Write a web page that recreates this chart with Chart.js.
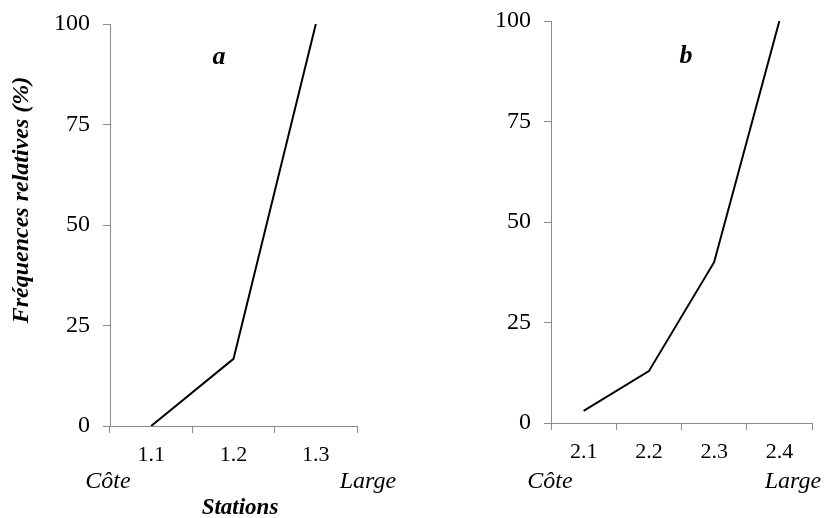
<!DOCTYPE html>
<html>
<head>
<meta charset="utf-8">
<script src="https://cdn.jsdelivr.net/npm/chart.js@4.4.1/dist/chart.umd.min.js"></script>
<style>
    html, body { margin: 0; padding: 0; background: #fff; }
    .panel { position: absolute; top: 0; width: 413px; height: 518px; }
    #panelA { left: 0; }
    #panelB { left: 413px; }
</style>
</head>
<body>
<div class="panel" id="panelA"><canvas id="chartA"></canvas></div>
<div class="panel" id="panelB"><canvas id="chartB"></canvas></div>
<script>
// Data
const stationsA = ['1.1', '1.2', '1.3'];
const freqA = [0, 16.7, 100];
const stationsB = ['2.1', '2.2', '2.3', '2.4'];
const freqB = [3, 12.9, 40, 100];
const yTicks = [0, 25, 50, 75, 100];

const SERIF = '"Liberation Serif", "Times New Roman", serif';
const AXIS_GREY = '#8c8c8c';

// Draw panel letter, Côte / Large, axis titles
const labelsPlugin = {
    id: 'panelLabels',
    afterDraw(chart, args, opts) {
        const ctx = chart.ctx;
        ctx.save();
        ctx.fillStyle = '#000';
        ctx.textAlign = 'center';
        ctx.textBaseline = 'middle';

        ctx.font = 'italic bold 26px ' + SERIF;
        ctx.fillText(opts.letter, opts.letterX, opts.letterY);

        ctx.font = 'italic 24px ' + SERIF;
        ctx.fillText('Côte', opts.coteX, opts.sideY);
        ctx.fillText('Large', opts.largeX, opts.sideY);

        if (opts.titles) {
            ctx.font = 'italic bold 23px ' + SERIF;
            ctx.fillText('Stations', 240, 508);
            ctx.font = 'italic bold 24px ' + SERIF;
            ctx.translate(22, 200);
            ctx.rotate(-Math.PI / 2);
            ctx.fillText('Fréquences relatives (%)', 0, 0);
        }
        ctx.restore();
    }
};

function makeChart(id, labels, values, opts) {
    const ctx = document.getElementById(id).getContext('2d');
    return new Chart(ctx, {
        type: 'line',
        data: {
            labels: labels,
            datasets: [{
                data: values,
                borderColor: '#000',
                borderWidth: 2,
                pointRadius: 0,
                tension: 0,
                fill: false
            }]
        },
        options: {
            responsive: true,
            maintainAspectRatio: false,
            animation: false,
            layout: {
                padding: { left: 0, top: opts.top, right: opts.right, bottom: 0 }
            },
            plugins: {
                legend: { display: false },
                tooltip: { enabled: false },
                panelLabels: opts.labels
            },
            scales: {
                x: {
                    offset: true,
                    grid: {
                        offset: true,
                        drawOnChartArea: false,
                        color: AXIS_GREY,
                        tickLength: 7
                    },
                    border: { color: AXIS_GREY },
                    ticks: {
                        color: '#000',
                        padding: 9,
                        maxRotation: 0,
                        font: { family: SERIF, size: 22 }
                    },
                    afterFit: scale => { scale.height = opts.xHeight; }
                },
                y: {
                    min: 0,
                    max: 100,
                    afterBuildTicks: scale => {
                        scale.ticks = yTicks.map(v => ({ value: v }));
                    },
                    grid: {
                        drawOnChartArea: false,
                        color: AXIS_GREY,
                        tickLength: 7
                    },
                    border: { color: AXIS_GREY },
                    ticks: {
                        color: '#000',
                        padding: 13,
                        font: { family: SERIF, size: 24, lineHeight: 0.6 }
                    },
                    afterFit: scale => { scale.width = opts.yWidth; }
                }
            }
        },
        plugins: [labelsPlugin]
    });
}

makeChart('chartA', stationsA, freqA, {
    top: 24, right: 56, xHeight: 92, yWidth: 110,
    labels: { letter: 'a', letterX: 219, letterY: 57, coteX: 108, largeX: 368, sideY: 482, titles: true }
});

makeChart('chartB', stationsB, freqB, {
    top: 21, right: 14, xHeight: 95, yWidth: 138,
    labels: { letter: 'b', letterX: 273, letterY: 56, coteX: 137, largeX: 380, sideY: 482, titles: false }
});
</script>
</body>
</html>
